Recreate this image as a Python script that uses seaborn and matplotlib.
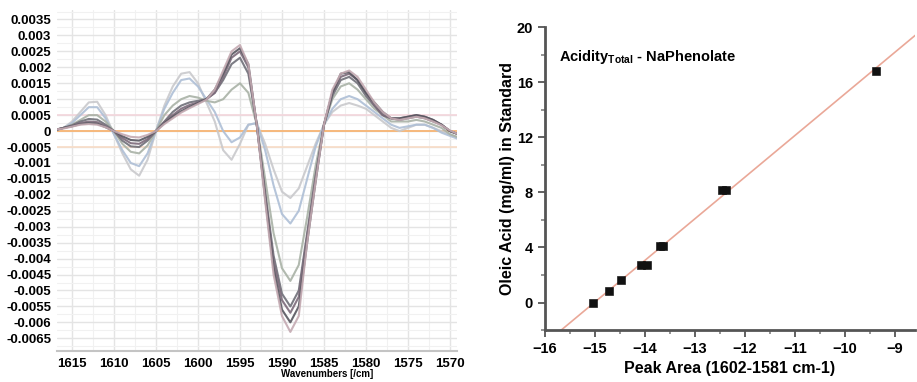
import numpy as np
import pandas as pd
import matplotlib
matplotlib.use("Agg")
import matplotlib.pyplot as plt
from matplotlib.ticker import MultipleLocator
import seaborn as sns

# spectra (2nd derivative)
wavenumber = list(range(1617, 1568, -1))

s1 = [0.00002, 0.0001, 0.0003, 0.0006, 0.0009, 0.00092, 0.0005, -0.0001, -0.0007, -0.0012,
      -0.0014, -0.0009, 0.0, 0.0008, 0.0014, 0.0018, 0.00185, 0.0015, 0.0009, 0.0003,
      -0.0006, -0.0009, -0.0004, 0.0002, 0.00025, -0.0004, -0.0012, -0.0019, -0.0021, -0.0018,
      -0.0011, -0.0004, 0.0002, 0.0006, 0.0008, 0.00088, 0.0008, 0.0007, 0.0005, 0.0003,
      0.0001, 0.0, 0.0001, 0.0002, 0.0002, 0.0001, 0.0, -0.0001, -0.0002]
s2 = [0.00002, 0.0001, 0.00025, 0.0005, 0.00075, 0.00075, 0.0004, -0.0001, -0.0006, -0.001,
      -0.0011, -0.0007, 0.0, 0.0007, 0.0012, 0.0016, 0.00165, 0.0014, 0.001, 0.0006,
      0.0, -0.00035, -0.0002, 0.0002, 0.00025, -0.0006, -0.0017, -0.0026, -0.0029, -0.0025,
      -0.0015, -0.0005, 0.0002, 0.0007, 0.001, 0.0011, 0.001, 0.0008, 0.0006, 0.0004,
      0.0002, 0.0001, 0.00015, 0.0002, 0.0002, 0.0001, -0.00005, -0.00015, -0.00025]
s3 = [0.00003, 0.0001, 0.0002, 0.00035, 0.0005, 0.0005, 0.0003, 0.0, -0.0004, -0.00065,
      -0.0007, -0.00045, 0.0, 0.0005, 0.0008, 0.001, 0.0011, 0.00105, 0.00095, 0.0009,
      0.001, 0.0013, 0.0015, 0.0012, 0.0002, -0.0015, -0.0032, -0.0043, -0.0047, -0.0042,
      -0.0027, -0.0011, 0.0002, 0.001, 0.0014, 0.0015, 0.0013, 0.001, 0.0007, 0.0005,
      0.0003, 0.0003, 0.0003, 0.00035, 0.0003, 0.0002, 0.0001, -0.0001, -0.0002]
s4 = [0.00003, 0.0001, 0.00018, 0.0003, 0.00038, 0.00036, 0.0002, 0.0, -0.0003, -0.00048,
      -0.0005, -0.0003, 0.0, 0.0003, 0.0006, 0.0008, 0.0009, 0.00095, 0.001, 0.0012,
      0.0016, 0.0021, 0.0023, 0.0018, 0.0002, -0.0019, -0.0039, -0.0051, -0.0055, -0.005,
      -0.0032, -0.0014, 0.0002, 0.0011, 0.0016, 0.0017, 0.0015, 0.0011, 0.0008, 0.0005,
      0.0004, 0.00035, 0.0004, 0.00045, 0.0004, 0.0003, 0.0002, 0.0, -0.0001]
s5 = [0.00004, 0.0001, 0.00016, 0.00025, 0.0003, 0.00028, 0.00015, 0.0, -0.00022, -0.00038,
      -0.0004, -0.00025, 0.0, 0.00028, 0.0005, 0.0007, 0.00082, 0.0009, 0.001, 0.0012,
      0.0017, 0.0023, 0.0025, 0.002, 0.0002, -0.002, -0.0041, -0.0053, -0.0057, -0.0052,
      -0.0033, -0.0015, 0.0002, 0.0012, 0.0017, 0.0018, 0.0016, 0.0012, 0.0008, 0.0005,
      0.0004, 0.0004, 0.00045, 0.0005, 0.00045, 0.00035, 0.0002, 0.0, -0.0001]
s6 = [0.00004, 0.0001, 0.00015, 0.00022, 0.00025, 0.00023, 0.00012, 0.0, -0.00016, -0.00028,
      -0.0003, -0.00018, 0.0, 0.00025, 0.00045, 0.00062, 0.00076, 0.00088, 0.001, 0.0013,
      0.0018, 0.0024, 0.0026, 0.0021, 0.0002, -0.0021, -0.0043, -0.0056, -0.006, -0.0055,
      -0.0035, -0.0016, 0.0002, 0.0012, 0.0018, 0.00185, 0.0016, 0.0012, 0.0009, 0.0006,
      0.0004, 0.0004, 0.00045, 0.0005, 0.00045, 0.00035, 0.0002, 0.0, -0.0001]
s7 = [0.00005, 0.00008, 0.00014, 0.0002, 0.00022, 0.0002, 0.00012, 0.0, -0.0001, -0.00018,
      -0.0002, -0.00012, 0.0, 0.00022, 0.0004, 0.00058, 0.00072, 0.00085, 0.00098, 0.0013,
      0.0019, 0.0025, 0.0027, 0.0021, 0.0002, -0.0022, -0.0045, -0.0058, -0.0063, -0.0058,
      -0.0035, -0.0016, 0.0002, 0.0013, 0.0018, 0.0019, 0.0017, 0.0013, 0.0009, 0.0006,
      0.0004, 0.00035, 0.0004, 0.00045, 0.0004, 0.0003, 0.00018, 0.00002, -0.0001]
spectra = {"s1": s1, "s2": s2, "s3": s3, "s4": s4, "s5": s5, "s6": s6, "s7": s7}
line_colors = ["#c9c9cc", "#aebfd6", "#a9b2a6", "#6f6f78", "#7c6a7a", "#57565f", "#c4aab2"]
ytick_vals = [-0.0065, -0.006, -0.0055, -0.005, -0.0045, -0.004, -0.0035, -0.003, -0.0025,
              -0.002, -0.0015, -0.001, -0.0005, 0, 0.0005, 0.001, 0.0015, 0.002, 0.0025,
              0.003, 0.0035]

# calibration
peak_area = [-15.03, -14.72, -14.47, -14.08, -13.96, -13.70, -13.63, -12.45, -12.38, -9.38]
oleic_acid = [0.0, 0.8, 1.6, 2.75, 2.75, 4.1, 4.1, 8.2, 8.2, 16.8]

sns.set_style("white")
plt.rcParams["font.family"] = ["Liberation Sans", "DejaVu Sans"]
plt.rcParams["font.weight"] = "bold"
plt.rcParams["text.color"] = "black"
plt.rcParams["axes.labelcolor"] = "black"
plt.rcParams["mathtext.fontset"] = "custom"
plt.rcParams["mathtext.bf"] = "Liberation Sans:bold"
plt.rcParams["mathtext.rm"] = "Liberation Sans:bold"

fig = plt.figure(figsize=(9.17, 3.82), dpi=100)
ax1 = fig.add_axes([0.062, 0.081, 0.436, 0.893])
ax2 = fig.add_axes([0.594, 0.136, 0.404, 0.793])

# ---- left: spectra
df = pd.DataFrame({"wavenumber": wavenumber * len(spectra),
                   "value": sum(spectra.values(), []),
                   "sample": np.repeat(list(spectra.keys()), len(wavenumber))})
ax1.axhline(0.0005, color="#f3d6dc", lw=1.2, zorder=1)
ax1.axhline(-0.0005, color="#f8dcc6", lw=1.2, zorder=1)
ax1.axhline(0, color="#f6b87c", lw=1.4, zorder=1)
sns.lineplot(data=df, x="wavenumber", y="value", hue="sample", palette=line_colors,
             estimator=None, legend=False, lw=1.5, alpha=0.9, ax=ax1, zorder=2,
             solid_joinstyle="round")
ax1.set_xlim(1616.8, 1569.2)
ax1.set_ylim(-0.0069, 0.0038)
ax1.xaxis.set_major_locator(MultipleLocator(5))
ax1.xaxis.set_minor_locator(MultipleLocator(2.5))
ax1.yaxis.set_minor_locator(MultipleLocator(0.00025))
ax1.set_yticks(ytick_vals)
ax1.set_yticklabels([f"{v:g}" for v in ytick_vals])
ax1.grid(True, which="major", color="#e4e4e4", lw=1.0)
ax1.grid(True, which="minor", color="#f1f1f1", lw=0.8)
for side in ["left", "top", "right"]:
    ax1.spines[side].set_visible(False)
ax1.spines["bottom"].set_color("#c4c4c4")
ax1.spines["bottom"].set_linewidth(1.5)
ax1.tick_params(which="both", length=0, pad=4, labelcolor="black")
ax1.tick_params(axis="y", labelsize=9.5)
ax1.tick_params(axis="x", labelsize=9.5, pad=5)
ax1.set_xlabel("Wavenumbers [/cm]", fontsize=7, fontweight="bold")
ax1.xaxis.set_label_coords(0.677, -0.052)
ax1.set_ylabel("")

# ---- right: calibration
ax2.set_xlim(-16, -8.6)
ax2.set_ylim(-2, 20)
sns.regplot(x=peak_area, y=oleic_acid, scatter=False, ci=None, truncate=False,
            line_kws={"color": "#eaa898", "lw": 1.2}, ax=ax2)
sns.scatterplot(x=peak_area, y=oleic_acid, marker="s", s=30, color="#111111",
                edgecolor="#111111", ax=ax2, zorder=3)
ax2.set_xlim(-16, -8.6)
ax2.set_ylim(-2, 20)
ax2.xaxis.set_major_locator(MultipleLocator(1))
ax2.xaxis.set_minor_locator(MultipleLocator(0.5))
ax2.set_yticks([0, 4, 8, 12, 16, 20])
ax2.yaxis.set_minor_locator(MultipleLocator(2))
for side in ["top", "right"]:
    ax2.spines[side].set_visible(False)
for side in ["left", "bottom"]:
    ax2.spines[side].set_color("#555555")
    ax2.spines[side].set_linewidth(2)
ax2.tick_params(which="major", length=5, width=1.3, color="#555555", labelsize=10.5,
                direction="out", labelcolor="black")
ax2.tick_params(which="minor", length=3, width=1.1, color="#777777", direction="out")
ax2.tick_params(axis="x", which="both", bottom=True)
ax2.tick_params(axis="y", which="both", left=True)
ax2.set_xlabel("Peak Area (1602-1581 cm-1)", fontsize=11.5, fontweight="bold", labelpad=4)
ax2.set_ylabel("Oleic Acid (mg/ml) in Standard", fontsize=11.5, fontweight="bold", labelpad=1)
ax2.text(0.038, 0.9, r"Acidity$_{\mathbf{Total}}$ - NaPhenolate", transform=ax2.transAxes,
         fontsize=10.5, fontweight="bold", va="center", ha="left")

fig.savefig("out.png", dpi=100)
